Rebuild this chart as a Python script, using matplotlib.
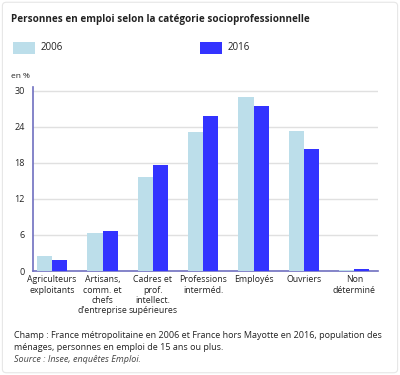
import matplotlib
matplotlib.use("Agg")
import matplotlib.pyplot as plt
import numpy as np
from matplotlib.patches import Rectangle, FancyBboxPatch

plt.rcParams['font.family'] = ['Open Sans', 'DejaVu Sans']

categories = ["Agriculteurs\nexploitants", "Artisans,\ncomm. et\nchefs\nd'entreprise",
              "Cadres et\nprof.\nintellect.\nsupérieures", "Professions\ninterméd.",
              "Employés", "Ouvriers", "Non\ndéterminé"]
v2006 = [2.5, 6.3, 15.6, 23.1, 29.0, 23.2, 0.1]
v2016 = [1.8, 6.6, 17.7, 25.7, 27.4, 20.3, 0.4]
yticks = [0, 6, 12, 18, 24, 30]
series_labels = ["2006", "2016"]

c2006 = "#bcdeea"
c2016 = "#3333ff"
axis_col = "#7070c0"

fig = plt.figure(figsize=(4, 3.75), dpi=100)
fig.patches.append(FancyBboxPatch((0.006, 0.006), 0.988, 0.988, boxstyle="round,pad=0,rounding_size=0.01",
                                  transform=fig.transFigure, fill=False, edgecolor="#e6e6e6", linewidth=0.8))

ax = fig.add_axes([0.0825, 0.2773, 0.8625, 0.4907])
x = np.arange(len(categories))
w = 0.3
ax.bar(x - w/2, v2006, width=w, color=c2006, zorder=3)
ax.bar(x + w/2, v2016, width=w, color=c2016, zorder=3)
ax.set_xlim(-0.38, 6.47)
ax.set_ylim(0, 30.6)
ax.set_yticks(yticks)
ax.set_yticklabels([str(t) for t in yticks])
ax.yaxis.grid(True, color="#e0e0e0", linewidth=1.0, zorder=0)
ax.set_xticks(x)
ax.set_xticklabels(categories, fontsize=6.3, linespacing=1.2, color="#222222", va="top")
ax.tick_params(axis='x', length=0, pad=3)
ax.tick_params(axis='y', length=0, pad=6, labelsize=6.5, labelcolor="#222222")
for s in ["top", "right"]:
    ax.spines[s].set_visible(False)
ax.spines["left"].set_color(axis_col)
ax.spines["bottom"].set_color(axis_col)
ax.spines["left"].set_linewidth(1.2)
ax.spines["bottom"].set_linewidth(1.2)
ax.set_axisbelow(True)

fig.text(0.0275, 0.947, "Personnes en emploi selon la catégorie socioprofessionnelle",
         fontsize=7.1, fontweight="bold", color="#222222", va="center")
# legend
fig.patches.append(Rectangle((13/400, 1-54/375), 22/400, 12/375, transform=fig.transFigure,
                             facecolor=c2006, edgecolor="none"))
fig.text(41/400, 1-48/375, series_labels[0], fontsize=7, color="#222222", va="center")
fig.patches.append(Rectangle((200/400, 1-54/375), 22/400, 12/375, transform=fig.transFigure,
                             facecolor=c2016, edgecolor="none"))
fig.text(228/400, 1-48/375, series_labels[1], fontsize=7, color="#222222", va="center")

fig.text(11/400, 1-76/375, "en %", fontsize=6, color="#222222", va="center")

fig.text(14/400, 1-335/375,
         "Champ : France métropolitaine en 2006 et France hors Mayotte en 2016, population des",
         fontsize=6.5, color="#222222", va="center")
fig.text(14/400, 1-348/375, "ménages, personnes en emploi de 15 ans ou plus.",
         fontsize=6.5, color="#222222", va="center")
fig.text(14/400, 1-360/375, "Source : Insee, enquêtes Emploi.",
         fontsize=6.5, color="#444444", va="center", style="italic")

fig.savefig("out.png", dpi=100)
